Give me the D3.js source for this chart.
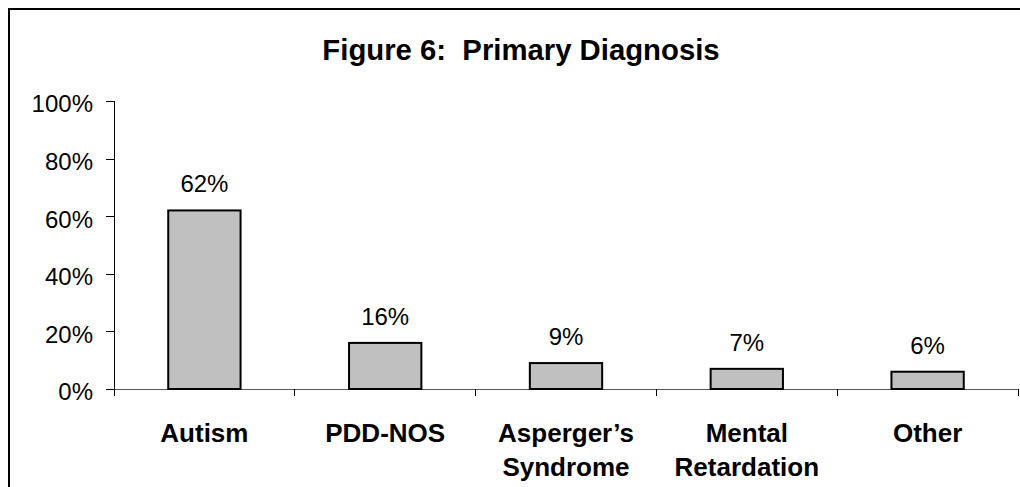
<!DOCTYPE html>
<html>
<head>
<meta charset="utf-8">
<script src="https://cdn.jsdelivr.net/npm/d3@7"></script>
<style>
  html, body { margin: 0; padding: 0; background: #fff; }
  svg { display: block; font-family: "Liberation Sans", Arial, sans-serif; }
</style>
</head>
<body>
<svg id="chart" width="1020" height="487"></svg>
<script>
const categories = [["Autism"], ["PDD-NOS"], ["Asperger\u2019s", "Syndrome"], ["Mental", "Retardation"], ["Other"]];
const values = [0.62, 0.16, 0.09, 0.07, 0.06];
const yTicks = [0, 0.2, 0.4, 0.6, 0.8, 1.0];

const svg = d3.select("#chart");
const margin = { top: 101, right: 2, bottom: 98, left: 114 };
const width = 1020, height = 487;

// outer frame (runs off the right and bottom edge)
svg.append("rect")
  .attr("x", 9).attr("y", 9)
  .attr("width", 1040).attr("height", 500)
  .attr("fill", "none").attr("stroke", "#000").attr("stroke-width", 2);

svg.append("text")
  .attr("x", 521).attr("y", 60)
  .attr("text-anchor", "middle")
  .attr("font-size", 29.3).attr("font-weight", "bold")
  .attr("xml:space", "preserve")
  .text("Figure 6:  Primary Diagnosis");

const x = d3.scaleBand()
  .domain(d3.range(values.length))
  .range([margin.left, width - margin.right])
  .paddingInner(0.6).paddingOuter(0.3);

const y = d3.scaleLinear().domain([0, 1]).range([height - margin.bottom, margin.top]);

// y axis
const yAxis = svg.append("g")
  .attr("transform", `translate(${margin.left},0)`)
  .call(d3.axisLeft(y).tickValues(yTicks).tickSize(8).tickPadding(13).tickFormat(d3.format(".0%")));
yAxis.selectAll("line, path").attr("stroke", "#000").attr("shape-rendering", "crispEdges");
yAxis.selectAll("text").attr("font-size", 24).attr("fill", "#000")
  .attr("font-family", "Liberation Sans, Arial, sans-serif").attr("dy", "0.45em");

// x axis with ticks between categories
const bounds = d3.range(values.length + 1).map(i => margin.left + i * (width - margin.right - margin.left) / values.length);
const xg = svg.append("g");
xg.append("line")
  .attr("x1", margin.left).attr("x2", width - margin.right)
  .attr("y1", y(0)).attr("y2", y(0))
  .attr("stroke", "#555").attr("shape-rendering", "crispEdges");
xg.selectAll(".xt").data(bounds).join("line")
  .attr("x1", d => d).attr("x2", d => d)
  .attr("y1", y(0)).attr("y2", y(0) + 7)
  .attr("stroke", "#000").attr("shape-rendering", "crispEdges");

// bars
svg.selectAll(".bar").data(values).join("rect")
  .attr("x", (d, i) => x(i))
  .attr("y", d => y(d))
  .attr("width", x.bandwidth())
  .attr("height", d => y(0) - y(d))
  .attr("fill", "#c0c0c0")
  .attr("stroke", "#000")
  .attr("stroke-width", 2);

// value labels
svg.selectAll(".val").data(values).join("text")
  .attr("x", (d, i) => x(i) + x.bandwidth() / 2)
  .attr("y", d => y(d) - 18)
  .attr("text-anchor", "middle")
  .attr("font-size", 24)
  .text(d => d3.format(".0%")(d));

// category labels
const cat = svg.selectAll(".cat").data(categories).join("text")
  .attr("text-anchor", "middle")
  .attr("font-size", 26).attr("font-weight", "bold");
cat.selectAll("tspan").data((d, i) => d.map(t => ({ t, i }))).join("tspan")
  .attr("x", d => x(d.i) + x.bandwidth() / 2)
  .attr("y", (d, j) => 442 + j * 34)
  .text(d => d.t);
</script>
</body>
</html>
